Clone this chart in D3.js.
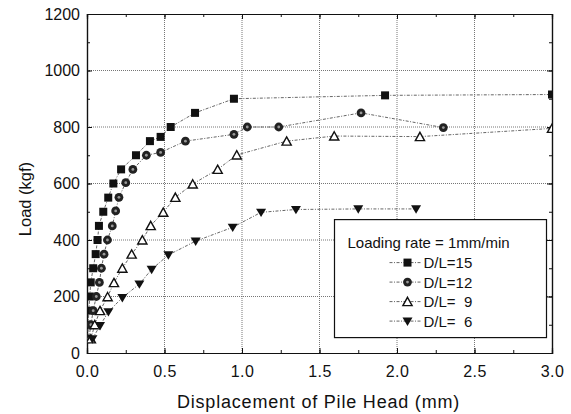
<!DOCTYPE html>
<html>
<head>
<meta charset="utf-8">
<script src="https://cdn.jsdelivr.net/npm/d3@7"></script>
<style>
  body { margin: 0; background: #fff; }
  text { font-family: "Liberation Sans", Arial, sans-serif; fill: #111; }
</style>
</head>
<body>
<div id="chart"></div>
<script>
// ------------------- //
// DATA
// ------------------- //
var xTicks = [0.0, 0.5, 1.0, 1.5, 2.0, 2.5, 3.0]
var yTicks = [0, 200, 400, 600, 800, 1000, 1200]

var seriesNames = ["D/L=15", "D/L=12", "D/L=  9", "D/L=  6"]

var disp15 = [0.005, 0.008, 0.012, 0.018, 0.024, 0.04, 0.056, 0.068, 0.077, 0.105, 0.137, 0.17, 0.22, 0.316, 0.406, 0.475, 0.54, 0.697, 0.948, 1.923, 3.0]
var load15 = [50, 100, 150, 200, 250, 300, 350, 400, 450, 500, 550, 600, 650, 700, 750, 765, 800, 850, 900, 912, 915]

var disp12 = [0.012, 0.025, 0.04, 0.06, 0.08, 0.093, 0.11, 0.132, 0.163, 0.185, 0.206, 0.25, 0.296, 0.383, 0.475, 0.635, 0.948, 1.034, 1.237, 1.768, 2.299]
var load12 = [50, 100, 150, 200, 250, 300, 350, 400, 450, 503, 551, 603, 650, 700, 710, 750, 774, 800, 800, 850, 798]

var disp9 = [0.025, 0.05, 0.084, 0.133, 0.174, 0.228, 0.288, 0.357, 0.411, 0.492, 0.57, 0.682, 0.843, 0.966, 1.288, 1.595, 2.148, 3.0]
var load9 = [50, 100, 150, 199, 249, 300, 350, 400, 451, 498, 551, 598, 650, 701, 750, 768, 766, 795]

var disp6 = [0.035, 0.084, 0.138, 0.228, 0.338, 0.417, 0.525, 0.701, 0.94, 1.123, 1.348, 1.75, 2.123]
var load6 = [50, 97, 146, 196, 244, 296, 347, 396, 445, 498, 508, 510, 510]

var allDisp = [disp15, disp12, disp9, disp6]
var allLoad = [load15, load12, load9, load6]
var symbols = ["square", "circle", "triangle", "triangleDown"]

// ------------------- //
// SVG
// ------------------- //
var W = 571, H = 414
var margin = {top: 14, right: 19, bottom: 61, left: 87},
  width = W - margin.left - margin.right,
  height = H - margin.top - margin.bottom

var svg = d3.select("#chart")
.append("svg")
  .attr("width", W)
  .attr("height", H)
.append("g")
  .attr("transform", "translate(" + margin.left + "," + margin.top + ")")

var x = d3.scaleLinear().domain([0, 3]).range([0, width])
var y = d3.scaleLinear().domain([0, 1200]).range([height, 0])

svg.append("clipPath").attr("id", "clip")
  .append("rect").attr("width", width).attr("height", height)

// grid
svg.append("g").selectAll("line")
  .data(xTicks.slice(1, -1))
  .enter().append("line")
    .attr("x1", function(d){ return x(d) }).attr("x2", function(d){ return x(d) })
    .attr("y1", 0).attr("y2", height)
    .attr("stroke", "#666").attr("stroke-width", 0.9).attr("stroke-dasharray", "1,1")
svg.append("g").selectAll("line")
  .data(yTicks.slice(1, -1))
  .enter().append("line")
    .attr("y1", function(d){ return y(d) }).attr("y2", function(d){ return y(d) })
    .attr("x1", 0).attr("x2", width)
    .attr("stroke", "#666").attr("stroke-width", 0.9).attr("stroke-dasharray", "1,1")

// axes with inward ticks on all four sides
var minorX = d3.range(0, 3.001, 0.25)
var minorY = d3.range(0, 1201, 100)

function styleAxis(g) {
  g.select(".domain").attr("stroke", "#111").attr("stroke-width", 1.2)
  g.selectAll(".tick line").attr("stroke", "#111").attr("stroke-width", 1)
}

svg.append("g").attr("transform", "translate(0," + height + ")")
  .call(d3.axisBottom(x).tickValues(minorX).tickSize(-3).tickFormat(""))
  .call(styleAxis)
svg.append("g").attr("transform", "translate(0," + height + ")")
  .call(d3.axisBottom(x).tickValues(xTicks).tickSize(-5).tickPadding(13).tickFormat(d3.format(".1f")))
  .call(styleAxis)
  .selectAll("text").style("font-size", "16px").style("letter-spacing", "0.5px").attr("fill", "#111")

svg.append("g").attr("transform", "translate(0,0)")
  .call(d3.axisTop(x).tickValues(minorX).tickSize(-3).tickFormat(""))
  .call(styleAxis)
svg.append("g")
  .call(d3.axisTop(x).tickValues(xTicks).tickSize(-5).tickFormat(""))
  .call(styleAxis)

svg.append("g")
  .call(d3.axisLeft(y).tickValues(minorY).tickSize(-3).tickFormat(""))
  .call(styleAxis)
svg.append("g")
  .call(d3.axisLeft(y).tickValues(yTicks).tickSize(-5).tickPadding(7).tickFormat(d3.format("d")))
  .call(styleAxis)
  .selectAll("text").style("font-size", "16px").attr("fill", "#111")

svg.append("g").attr("transform", "translate(" + width + ",0)")
  .call(d3.axisRight(y).tickValues(minorY).tickSize(-3).tickFormat(""))
  .call(styleAxis)
svg.append("g").attr("transform", "translate(" + width + ",0)")
  .call(d3.axisRight(y).tickValues(yTicks).tickSize(-5).tickFormat(""))
  .call(styleAxis)

// axis labels
svg.append("text")
  .attr("x", width/2 - 1)
  .attr("y", height + 55)
  .attr("text-anchor", "middle")
  .style("font-size", "18px")
  .style("letter-spacing", "0.8px")
  .text("Displacement of Pile Head (mm)")
svg.append("text")
  .attr("transform", "translate(-56," + (y(545) - 0) + ") rotate(-90)")
  .attr("text-anchor", "middle")
  .style("font-size", "16.5px")
  .text("Load (kgf)")

// ------------------- //
// SERIES
// ------------------- //
function drawMarker(g, kind, cx, cy) {
  if (kind == "square") {
    g.append("rect").attr("x", cx - 4).attr("y", cy - 4).attr("width", 8).attr("height", 8).attr("fill", "#111")
  } else if (kind == "circle") {
    g.append("circle").attr("cx", cx).attr("cy", cy).attr("r", 4.4).attr("fill", "#222")
    g.append("circle").attr("cx", cx).attr("cy", cy).attr("r", 1.4).attr("fill", "#999")
  } else if (kind == "triangle") {
    g.append("path").attr("transform", "translate(" + cx + "," + (cy + 0.5) + ")")
      .attr("d", "M0,-4.8L4.6,3.5L-4.6,3.5Z")
      .attr("fill", "#fff").attr("stroke", "#111").attr("stroke-width", 1.4)
  } else {
    g.append("path").attr("transform", "translate(" + cx + "," + cy + ")")
      .attr("d", "M0,4.8L5,-3.6L-5,-3.6Z")
      .attr("fill", "#111")
  }
}

var plotArea = svg.append("g").attr("clip-path", "url(#clip)")
var line = d3.line().x(function(d){ return x(d[0]) }).y(function(d){ return y(d[1]) })

allDisp.forEach(function(dx, i) {
  var pts = dx.map(function(d, j){ return [d, allLoad[i][j]] })
  plotArea.append("path")
    .datum(pts)
    .attr("d", line)
    .attr("fill", "none")
    .attr("stroke", "#555")
    .attr("stroke-width", 0.9)
    .attr("stroke-dasharray", "3,1.5,1,1.5")
  var mg = plotArea.append("g")
  pts.forEach(function(p){ drawMarker(mg, symbols[i], x(p[0]), y(p[1])) })
})

// ------------------- //
// LEGEND
// ------------------- //
var legend = svg.append("g").attr("transform", "translate(" + (x(1.6) - 0.5) + "," + (y(474) + 0.5) + ")")
legend.append("rect")
  .attr("width", 212).attr("height", 118)
  .attr("fill", "#fff").attr("stroke", "#111").attr("stroke-width", 1.2)
legend.append("text")
  .attr("x", 13).attr("y", 28)
  .style("font-size", "15px")
  .text("Loading rate = 1mm/min")
seriesNames.forEach(function(name, i) {
  var ly = 43 + i * 19.5
  legend.append("line")
    .attr("x1", 55).attr("x2", 86).attr("y1", ly).attr("y2", ly)
    .attr("stroke", "#555").attr("stroke-width", 0.9).attr("stroke-dasharray", "3,1.5,1,1.5")
  drawMarker(legend, symbols[i], 73, ly)
  legend.append("text")
    .attr("x", 89).attr("y", ly + 5.5)
    .style("font-size", "15px")
    .attr("xml:space", "preserve")
    .style("white-space", "pre")
    .text(name)
})
</script>
</body>
</html>
